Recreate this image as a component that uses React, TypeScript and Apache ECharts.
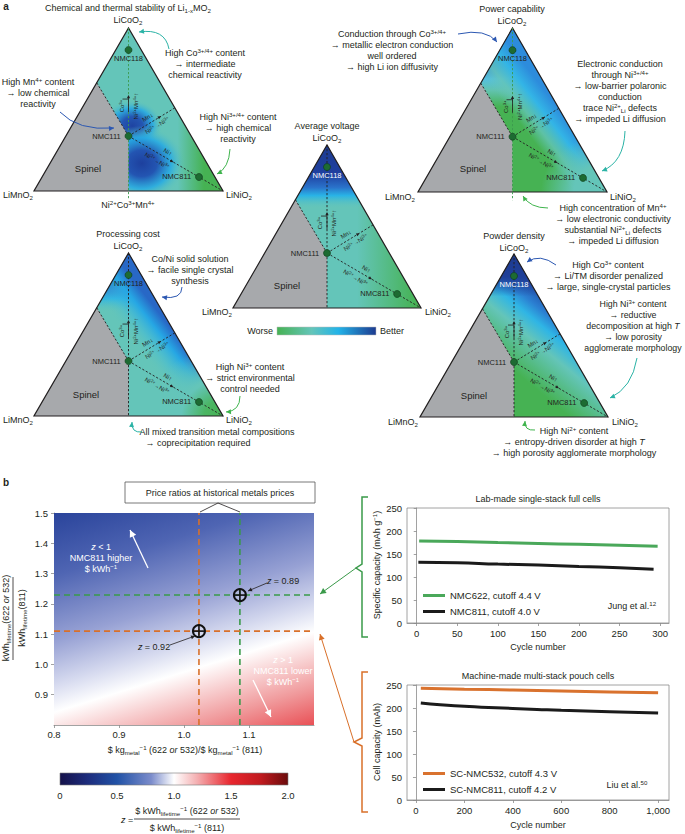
import React, { useEffect, useRef } from 'react';
import * as echarts from 'echarts';

const FONT = '"Liberation Sans", Arial, Helvetica, sans-serif';
const INK = '#231f20';

// ---------------- data ----------------
// ternary diagrams in cartesian units: LiMnO2 (0,0), LiNiO2 (1,0), LiCoO2 (0.5,1)
const triangleCorners = [[0, 0], [1, 0], [0.5, 1]];
const spinelRegion = [[0, 0], [0.332, 0.664], [0.5, 0.337], [0.5, 0]];
const nmcNames = ['NMC118', 'NMC111', 'NMC811'];
const nmcX = [0.5, 0.5, 0.873];
const nmcY = [0.865, 0.337, 0.086];
const spinelBoundary = [[0.332, 0.664], [0.5, 0.337]];
const mnLine = [[0.5, 0.337], [0.745, 0.51]];
const niLine = [[0.5, 0.337], [1, 0]];
const coLineFull = [[0.5, 1], [0.5, -0.05]];
const coLine = [[0.5, 1], [0.5, 0]];
const triangleTitles = ['Chemical and thermal stability of Li{sub|1-x}MO{sub|2}', 'Processing cost', 'Average voltage', 'Power capability', 'Powder density'];

// heat map (price ratio vs lifetime energy ratio)
const heatXExtent = [0.8, 1.2];
const heatYExtent = [0.8, 1.5];
const heatXTicks = [0.8, 0.9, 1.0, 1.1];
const heatYTicks = [0.9, 1.0, 1.1, 1.2, 1.3, 1.4, 1.5];
const priceRatios = [1.086, 1.023]; // 622, 532
const energyRatios = [1.229, 1.11];
const zValues = [0.89, 0.92];
const zTicks = [0, 0.5, 1.0, 1.5, 2.0];

// lab-made cells
const labCycles622 = [3, 50, 100, 150, 200, 250, 297];
const labCap622 = [178, 177, 175, 173, 171, 169, 167];
const labCycles811 = [2, 50, 100, 150, 200, 250, 292];
const labCap811 = [132, 131, 128, 126, 123, 120, 117];
const labXTicks = [0, 50, 100, 150, 200, 250, 300];
const capTicks = [0, 50, 100, 150, 200, 250];

// pouch cells
const pouchCycles532 = [20, 200, 400, 600, 800, 1000];
const pouchCap532 = [243, 241, 239, 237, 235, 233];
const pouchCycles811 = [20, 100, 200, 300, 400, 500, 600, 800, 1000];
const pouchCap811 = [211, 207, 204, 201, 199, 197, 195, 192, 189];
const pouchXTicks = [0, 200, 400, 600, 800, 1000];

// ---------------- styling ----------------
const TEAL = '#64c5b9';
const GREEN = '#46b253';
const DBLUE = '#1d3b90';
const GRAY = '#a7a9ac';
const TA = (a: number) => `rgba(100,197,185,${a})`;
const GA = (a: number) => `rgba(70,178,83,${a})`;

const lg = (x: number, y: number, x2: number, y2: number, s: any[]) =>
  new echarts.graphic.LinearGradient(x, y, x2, y2, s.map(([o, c]) => ({ offset: o, color: c })));
const rg = (x: number, y: number, r: number, s: any[]) =>
  new echarts.graphic.RadialGradient(x, y, r, s.map(([o, c]) => ({ offset: o, color: c })));

const TRI = [
  { left: 34, top: 28, w: 189, h: 163 },
  { left: 34, top: 253, w: 189, h: 163 },
  { left: 233, top: 145, w: 188, h: 163 },
  { left: 418, top: 28, w: 189, h: 164 },
  { left: 420, top: 254, w: 188, h: 163 },
];

const triStyles = [
  {
    base: TEAL, vGreen: true, nmc118: INK,
    overlays: [
      rg(0.52, 0.6, 0.16, [[0, '#1f44a2'], [0.35, '#2456b2'], [0.68, 'rgba(38,168,228,0.85)'], [1, TA(0)]]),
      rg(0.57, 0.83, 0.23, [[0, '#1d409e'], [0.35, '#2355b2'], [0.68, 'rgba(38,170,228,0.85)'], [1, TA(0)]]),
      lg(0.76, 0, 0.9, 0, [[0, GA(0)], [1, GREEN]]),
    ],
  },
  {
    base: TEAL, vGreen: false, nmc118: INK,
    overlays: [
      lg(0, 0, 0, 1, [[0, DBLUE], [0.17, '#2049a3'], [0.23, '#2a80d2'], [0.28, '#2cb4e6'], [0.36, TA(0)]]),
      lg(0.75, 0.5, 0.567, 0.623, [[0, '#2868c6'], [0.3, '#26a7e4'], [0.65, 'rgba(60,185,220,0.4)'], [1, TA(0)]]),
      rg(1, 1, 0.42, [[0, TEAL], [0.55, TEAL], [1, TA(0)]]),
      rg(1, 1, 0.22, [[0, GREEN], [0.45, GA(0.85)], [1, GA(0)]]),
    ],
  },
  {
    base: TEAL, vGreen: false, nmc118: '#ffffff',
    overlays: [
      lg(0, 0, 0, 1, [[0, DBLUE], [0.18, '#1f40a0'], [0.26, '#2a72ca'], [0.31, '#29b3e6'], [0.39, TA(0)]]),
      lg(0.66, 0, 0.98, 0, [[0, GA(0)], [1, GREEN]]),
    ],
  },
  {
    base: GREEN, vGreen: true, nmc118: INK,
    overlays: [
      lg(0, 0, 0, 1, [[0, DBLUE], [0.16, '#1f42a0'], [0.24, '#3088d6'], [0.31, '#55bfe0'], [0.38, TA(0.9)], [0.48, TA(0)]]),
      lg(0.75, 0.5, 0.567, 0.623, [[0, '#2d8cdc'], [0.35, '#33b5e6'], [0.7, TA(0.8)], [1, TA(0)]]),
      rg(1, 1, 0.35, [[0, TEAL], [0.5, TEAL], [1, TA(0)]]),
    ],
  },
  {
    base: GREEN, vGreen: false, nmc118: '#ffffff',
    overlays: [
      lg(0.936, 0.282, 0.464, 0.775, [[0, DBLUE], [0.2, '#2046a2'], [0.36, '#2b80d2'], [0.46, '#2fb5e5'], [0.6, TEAL], [0.75, TA(0.5)], [0.9, TA(0)]]),
      lg(0, 0, 0, 1, [[0, DBLUE], [0.14, '#1f3f98'], [0.26, 'rgba(31,63,152,0)']]),
    ],
  },
];

const rich = (fs: number, fill: string) => ({
  sup: { fontSize: fs * 0.68, lineHeight: fs * 0.68, verticalAlign: 'top', fontFamily: FONT, fill },
  sub: { fontSize: fs * 0.68, lineHeight: fs * 0.68, verticalAlign: 'bottom', fontFamily: FONT, fill },
  it: { fontSize: fs, fontStyle: 'italic', fontFamily: FONT, fill },
});

function T(x: number, y: number, text: string, o: any = {}) {
  const fs = o.fontSize || 9;
  const fill = o.fill || INK;
  return {
    type: 'text', x, y, z: 50, silent: true, rotation: o.rotation || 0,
    style: {
      text, fontSize: fs, fontFamily: FONT, fill, align: o.align || 'center', verticalAlign: o.va || 'middle',
      lineHeight: o.lh || 11, fontWeight: o.fontWeight || 'normal', rich: rich(fs, fill),
    },
  };
}

function head(x: number, y: number, ang: number, size: number, color: string) {
  const bx = x - Math.cos(ang) * size, by = y - Math.sin(ang) * size;
  const w = size * 0.5;
  const px = -Math.sin(ang) * w, py = Math.cos(ang) * w;
  return { type: 'polygon', z: 50, silent: true, shape: { points: [[x, y], [bx + px, by + py], [bx - px, by - py]] }, style: { fill: color } };
}

function curve(x1: number, y1: number, cx: number, cy: number, x2: number, y2: number, color: string) {
  return [
    { type: 'bezierCurve', z: 50, silent: true, shape: { x1, y1, x2, y2, cpx1: cx, cpy1: cy }, style: { stroke: color, lineWidth: 1, fill: 'none' } },
    head(x2, y2, Math.atan2(y2 - cy, x2 - cx), 5, color),
  ];
}

function straight(x1: number, y1: number, x2: number, y2: number, color: string, w = 1, hs = 5) {
  return [
    { type: 'line', z: 50, silent: true, shape: { x1, y1, x2, y2 }, style: { stroke: color, lineWidth: w } },
    head(x2, y2, Math.atan2(y2 - y1, x2 - x1), hs, color),
  ];
}

function seg(x1: number, y1: number, x2: number, y2: number, color: string, w = 1) {
  return { type: 'line', z: 50, silent: true, shape: { x1, y1, x2, y2 }, style: { stroke: color, lineWidth: w } };
}

function makeTriRender(i: number) {
  return function (_params: any, api: any) {
    const P = (p: number[]) => api.coord(p);
    const st = triStyles[i];
    const tri = triangleCorners.map(P);
    const ch: any[] = [];
    ch.push({ type: 'polygon', shape: { points: tri }, style: { fill: st.base } });
    st.overlays.forEach((g) => ch.push({ type: 'polygon', shape: { points: tri }, style: { fill: g } }));
    ch.push({ type: 'polygon', shape: { points: spinelRegion.map(P) }, style: { fill: GRAY } });
    ch.push({ type: 'polygon', shape: { points: tri }, style: { fill: 'none', stroke: INK, lineWidth: 1.2 } });
    const dash = (pts: number[][], color: string) => ({
      type: 'polyline', shape: { points: pts.map(P) }, style: { stroke: color, lineWidth: 0.9, lineDash: [2.2, 1.8], fill: 'none' },
    });
    ch.push(dash(st.vGreen ? coLineFull : coLine, st.vGreen ? '#3c9a4e' : INK));
    ch.push(dash(spinelBoundary, INK));
    ch.push(dash(mnLine, INK));
    ch.push(dash(niLine, INK));

    const c = P(mnLine[0]);
    const small = (x: number, y: number, text: string, rot: number) => ({
      type: 'text', x, y, rotation: rot,
      style: {
        text, fontSize: 6, fontFamily: FONT, fill: INK, align: 'center', verticalAlign: 'middle', lineHeight: 7,
        rich: { sup: { fontSize: 4.3, lineHeight: 4.3, verticalAlign: 'top', fontFamily: FONT, fill: INK } },
      },
    });
    const ln = (x1: number, y1: number, x2: number, y2: number) => ({ type: 'line', shape: { x1, y1, x2, y2 }, style: { stroke: INK, lineWidth: 0.8 } });
    const hd = (x: number, y: number, ang: number) => {
      const s = 3.2, w = 1.6;
      const bx = x - Math.cos(ang) * s, by = y - Math.sin(ang) * s;
      const px = -Math.sin(ang) * w, py = Math.cos(ang) * w;
      return { type: 'polygon', shape: { points: [[x, y], [bx + px, by + py], [bx - px, by - py]] }, style: { fill: INK } };
    };
    // Co3+ arrow (vertical)
    ch.push(ln(c[0], c[1] - 24, c[0], c[1] - 38));
    ch.push(hd(c[0], c[1] - 41, -Math.PI / 2));
    ch.push(ln(c[0] - 6, c[1] - 37, c[0], c[1] - 37));
    ch.push(small(c[0] - 7, c[1] - 30, 'Co{sup|3+}', Math.PI / 2));
    ch.push(small(c[0] + 7, c[1] - 30, 'Ni{sup|2+}Mn{sup|4+}↑', Math.PI / 2));
    // Mn line
    const E = P(mnLine[1]);
    let dx = E[0] - c[0], dy = E[1] - c[1];
    let L = Math.hypot(dx, dy); dx /= L; dy /= L;
    let nx = dy, ny = -dx;
    let rot = Math.atan2(-dy, dx);
    ch.push(small(c[0] + 26 * dx + 6 * nx, c[1] + 26 * dy + 6 * ny, 'Mn↓', rot));
    ch.push(small(c[0] + 30 * dx - 6 * nx, c[1] + 30 * dy - 6 * ny, 'Ni{sup|2+}→Ni{sup|3+}', rot));
    ch.push(hd(c[0] + 38 * dx, c[1] + 38 * dy, Math.atan2(dy, dx)));
    // Ni line
    const Rn = P(niLine[1]);
    dx = Rn[0] - c[0]; dy = Rn[1] - c[1];
    L = Math.hypot(dx, dy); dx /= L; dy /= L;
    nx = dy; ny = -dx;
    rot = Math.atan2(-dy, dx);
    ch.push(small(c[0] + 42 * dx + 6 * nx, c[1] + 42 * dy + 6 * ny, 'Ni↑', rot));
    ch.push(small(c[0] + 37 * dx - 7 * nx, c[1] + 37 * dy - 7 * ny, 'Ni{sup|2+}→Ni{sup|3+}', rot));
    ch.push(hd(c[0] + 52 * dx, c[1] + 52 * dy, Math.atan2(dy, dx)));
    return { type: 'group', children: ch };
  };
}

function heatRender(_params: any, api: any) {
  const p0 = api.coord([heatXExtent[0], heatYExtent[1]]);
  const p1 = api.coord([heatXExtent[1], heatYExtent[0]]);
  return {
    type: 'rect',
    shape: { x: p0[0], y: p0[1], width: p1[0] - p0[0], height: p1[1] - p0[1] },
    style: {
      fill: lg(0, 0, 0.49, 1.29, [
        [0, '#2a449b'], [0.2, '#4f65b3'], [0.41, '#97a1d4'], [0.55, '#d6daef'], [0.637, '#ffffff'],
        [0.72, '#f8d0d1'], [0.818, '#f0999b'], [0.92, '#ea5a5f'], [1, '#e6252c'],
      ]),
    },
  };
}

function markerRender(params: any, api: any) {
  const p = api.coord([api.value(0), api.value(1)]);
  const r = 6;
  return {
    type: 'group',
    children: [
      { type: 'circle', shape: { cx: p[0], cy: p[1], r }, style: { fill: 'rgba(255,255,255,0.15)', stroke: '#111', lineWidth: 2 } },
      { type: 'line', shape: { x1: p[0] - r, y1: p[1], x2: p[0] + r, y2: p[1] }, style: { stroke: '#111', lineWidth: 1.6 } },
      { type: 'line', shape: { x1: p[0], y1: p[1] - r, x2: p[0], y2: p[1] + r }, style: { stroke: '#111', lineWidth: 1.6 } },
    ],
  };
}

const axisLook = {
  axisLine: { show: true, lineStyle: { color: '#8a8a8a', width: 0.8 } },
  splitLine: { show: false },
};
const tickLook = { show: true, length: 3, lineStyle: { color: '#8a8a8a', width: 0.8 } };
const labelLook = { fontSize: 9.5, color: INK, fontFamily: FONT };

function buildOption() {
  const grids: any[] = TRI.map((t) => ({ left: t.left, top: t.top, width: t.w, height: t.h }));
  grids.push({ left: 54, top: 513, width: 260, height: 212 });
  grids.push({ left: 407, top: 508, width: 262, height: 115, show: true, borderColor: '#8a8a8a', borderWidth: 0.8 });
  grids.push({ left: 407, top: 685, width: 262, height: 115, show: true, borderColor: '#8a8a8a', borderWidth: 0.8 });

  const xAxis: any[] = TRI.map((_, i) => ({ gridIndex: i, type: 'value', min: 0, max: 1, show: false }));
  const yAxis: any[] = TRI.map((_, i) => ({ gridIndex: i, type: 'value', min: 0, max: 1, show: false }));
  xAxis.push({
    gridIndex: 5, type: 'value', min: heatXExtent[0], max: heatXExtent[1], ...axisLook,
    axisTick: { ...tickLook, customValues: heatXTicks },
    axisLabel: { ...labelLook, margin: 4, customValues: heatXTicks, formatter: (v: number) => v.toFixed(1) },
  });
  yAxis.push({
    gridIndex: 5, type: 'value', min: heatYExtent[0], max: heatYExtent[1], ...axisLook,
    axisTick: { ...tickLook, customValues: heatYTicks },
    axisLabel: { ...labelLook, margin: 6, customValues: heatYTicks, formatter: (v: number) => v.toFixed(1) },
  });
  xAxis.push({
    gridIndex: 6, type: 'value', min: -12, max: 311, ...axisLook,
    axisTick: { ...tickLook, customValues: labXTicks },
    axisLabel: { ...labelLook, margin: 5, customValues: labXTicks },
  });
  yAxis.push({
    gridIndex: 6, type: 'value', min: 0, max: 250, ...axisLook,
    axisTick: { ...tickLook, customValues: capTicks },
    axisLabel: { ...labelLook, margin: 5, customValues: capTicks },
  });
  xAxis.push({
    gridIndex: 7, type: 'value', min: -37, max: 1045, ...axisLook,
    axisTick: { ...tickLook, customValues: pouchXTicks },
    axisLabel: { ...labelLook, margin: 5, customValues: pouchXTicks, formatter: (v: number) => v.toLocaleString('en-US') },
  });
  yAxis.push({
    gridIndex: 7, type: 'value', min: 0, max: 250, ...axisLook,
    axisTick: { ...tickLook, customValues: capTicks },
    axisLabel: { ...labelLook, margin: 5, customValues: capTicks },
  });

  const series: any[] = [];
  TRI.forEach((_, i) => {
    series.push({
      type: 'custom', xAxisIndex: i, yAxisIndex: i, renderItem: makeTriRender(i), data: [[0.5, 0.5]], z: 2, silent: true,
    });
    series.push({
      type: 'scatter', xAxisIndex: i, yAxisIndex: i, symbolSize: 7, z: 3, silent: true,
      itemStyle: { color: '#1d6b32', borderColor: '#0e3a1a', borderWidth: 0.6, opacity: 1 },
      label: { show: true, formatter: '{b}', fontSize: 7.5, fontFamily: FONT, color: INK },
      data: nmcNames.map((n, k) => ({
        name: n, value: [nmcX[k], nmcY[k]],
        label: k === 0 ? { position: 'bottom', distance: 1, color: triStyles[i].nmc118 } : { position: 'left', distance: 4 },
      })),
    });
  });

  // heat map
  series.push({ type: 'custom', xAxisIndex: 5, yAxisIndex: 5, renderItem: heatRender, data: [[1, 1]], z: 1, silent: true });
  const dl = (pts: number[][], color: string) => ({
    type: 'line', xAxisIndex: 5, yAxisIndex: 5, data: pts, symbol: 'none', silent: true, z: 3,
    lineStyle: { color, width: 1.6, type: [6, 4] },
  });
  const ORANGE = '#d9702a', DGREEN = '#3a9a4a';
  series.push(dl([[priceRatios[1], heatYExtent[0]], [priceRatios[1], heatYExtent[1]]], ORANGE));
  series.push(dl([[priceRatios[0], heatYExtent[0]], [priceRatios[0], heatYExtent[1]]], DGREEN));
  series.push(dl([[heatXExtent[0], energyRatios[0]], [heatXExtent[1], energyRatios[0]]], DGREEN));
  series.push(dl([[heatXExtent[0], energyRatios[1]], [heatXExtent[1], energyRatios[1]]], ORANGE));
  series.push({
    type: 'custom', xAxisIndex: 5, yAxisIndex: 5, renderItem: markerRender, z: 4, silent: true,
    data: priceRatios.map((p, k) => [p, energyRatios[k], zValues[k]]),
  });

  // line charts
  const LGREEN = '#4aa85a', BLACK = '#1b1b1b', LORANGE = '#d9722e';
  const lineS = (name: string, xi: number, xs: number[], ys: number[], color: string) => ({
    type: 'line', name, xAxisIndex: xi, yAxisIndex: xi, data: xs.map((x, k) => [x, ys[k]]), symbol: 'none', smooth: true,
    lineStyle: { width: 3, color }, itemStyle: { color }, z: 3, silent: true,
  });
  series.push(lineS('NMC622, cutoff 4.4 V', 6, labCycles622, labCap622, LGREEN));
  series.push(lineS('NMC811, cutoff 4.0 V', 6, labCycles811, labCap811, BLACK));
  series.push(lineS('SC-NMC532, cutoff 4.3 V', 7, pouchCycles532, pouchCap532, LORANGE));
  series.push(lineS('SC-NMC811, cutoff 4.2 V', 7, pouchCycles811, pouchCap811, BLACK));

  const legendBase = {
    orient: 'vertical', icon: 'rect', itemWidth: 22, itemHeight: 3, itemGap: 5,
    textStyle: { fontSize: 9.5, fontFamily: FONT, color: INK, lineHeight: 11 }, selectedMode: false,
  };
  const legend = [
    { ...legendBase, left: 418, top: 585, data: ['NMC622, cutoff 4.4 V', 'NMC811, cutoff 4.0 V'] },
    { ...legendBase, left: 418, top: 763, data: ['SC-NMC532, cutoff 4.3 V', 'SC-NMC811, cutoff 4.2 V'] },
  ];

  // ---------- graphic annotations ----------
  const g: any[] = [];
  const TEALA = '#2bb3a6', BLUEA = '#2c58b2', GREENA = '#3fb44d';
  g.push(T(6, 6, 'a', { fontSize: 10, fontWeight: 'bold' }));
  g.push(T(6, 482, 'b', { fontSize: 10, fontWeight: 'bold' }));

  // triangle titles and corner labels
  const tt = [[128, 8], [128, 234], [327, 126], [512, 9], [514, 236]];
  tt.forEach(([x, y], i) => {
    g.push(T(x, y, triangleTitles[i]));
    g.push(T(x, y + 12, 'LiCoO{sub|2}'));
  });
  const mnL = [[18, 195], [18, 420], [217, 312], [400, 197], [403, 422]];
  const niL = [[239, 195], [239, 420], [438, 312], [623, 197], [625, 422]];
  const spL = [[88, 168], [86, 394], [287, 285], [473, 168], [474, 395]];
  TRI.forEach((_, i) => {
    g.push(T(mnL[i][0], mnL[i][1], 'LiMnO{sub|2}'));
    g.push(T(niL[i][0], niL[i][1], 'LiNiO{sub|2}'));
    g.push(T(spL[i][0], spL[i][1], 'Spinel', { fontSize: 9.5 }));
  });
  g.push(T(128, 205, 'Ni{sup|2+}Co{sup|3+}Mn{sup|4+}'));

  // T1 notes
  g.push(T(205, 64, 'High Co{sup|3+/4+} content\n→ intermediate\nchemical reactivity'));
  g.push(...curve(169, 49, 165, 28, 139, 32, TEALA));
  g.push(T(38, 93, 'High Mn{sup|4+} content\n→ low chemical\nreactivity'));
  g.push(...curve(60, 112, 78, 131, 114, 128, BLUEA));
  g.push(T(238, 128, 'High Ni{sup|3+/4+} content\n→ high chemical\nreactivity'));
  g.push(...curve(230, 149, 229, 168, 217, 174, GREENA));
  // T2 notes
  g.push(T(190, 270, 'Co/Ni solid solution\n→ facile single crystal\nsynthesis'));
  g.push(...curve(182, 287, 182, 300, 162, 297, BLUEA));
  g.push(T(250, 378, 'High Ni{sup|3+} content\n→ strict environmental\ncontrol needed'));
  g.push(...curve(240, 396, 240, 411, 226, 412, GREENA));
  g.push(T(217, 432, 'All mixed transition metal compositions'));
  g.push(T(198, 443, '→ coprecipitation required'));
  g.push(...curve(142, 432, 131, 433, 132, 422, TEALA));
  // T4 notes
  g.push(T(392, 50.5, 'Conduction through Co{sup|3+/4+}\n→ metallic electron conduction\nwell ordered\n→ high Li ion diffusivity'));
  g.push(...curve(458, 34, 486, 28, 497, 42, BLUEA));
  g.push(T(620, 91, 'Electronic conduction\nthrough Ni{sup|3+/4+}\n→ low-barrier polaronic\nconduction\ntrace Ni{sup|2+}{sub|Li} defects\n→ impeded Li diffusion'));
  g.push(...curve(625, 131, 624, 162, 602, 171, TEALA));
  g.push(T(613, 224.5, 'High concentration of Mn{sup|4+}\n→ low electronic conductivity\nsubstantial Ni{sup|2+}{sub|Li} defects\n→ impeded Li diffusion'));
  g.push(...curve(548, 208, 530, 208, 523, 196, GREENA));
  // T5 notes
  g.push(T(608, 276, 'High Co{sup|3+} content\n→ Li/TM disorder penalized\n→ large, single-crystal particles'));
  g.push(...curve(556, 265, 540, 253, 527, 262, BLUEA));
  g.push(T(633, 326, 'High Ni{sup|3+} content\n→ reductive\ndecomposition at high {it|T}\n→ low porosity\nagglomerate morphology', { fontSize: 8.8 }));
  g.push(...curve(637, 358, 632, 388, 610, 398, TEALA));
  g.push(T(574, 441.5, 'High Ni{sup|2+} content\n→ entropy-driven disorder at high {it|T}\n→ high porosity agglomerate morphology'));
  g.push(...curve(535, 430, 524, 431, 525, 421, GREENA));

  // worse/better bar
  g.push({
    type: 'rect', z: 50, silent: true, shape: { x: 277, y: 327, width: 99, height: 8 },
    style: { fill: lg(0, 0, 1, 0, [[0, GREEN], [0.35, TEAL], [0.62, '#23b3e8'], [1, DBLUE]]), stroke: '#bbb', lineWidth: 0.5 },
  });
  g.push(T(273, 331, 'Worse', { align: 'right' }));
  g.push(T(380, 331, 'Better', { align: 'left' }));

  // panel b: heat-map annotations
  g.push({ type: 'rect', z: 50, silent: true, shape: { x: 125, y: 482, width: 190, height: 21 }, style: { fill: '#fff', stroke: '#555', lineWidth: 0.8 } });
  g.push(T(220, 493, 'Price ratios at historical metals prices'));
  g.push(seg(218, 503, 200, 512, INK, 0.8));
  g.push(seg(218, 503, 240, 512, INK, 0.8));
  g.push(T(101, 547, '{it|z} < 1', { fill: '#fff' }));
  g.push(T(101, 558, 'NMC811 higher', { fill: '#fff' }));
  g.push(T(101, 569, '$ kWh{sup|−1}', { fill: '#fff' }));
  g.push(...straight(148, 568, 130, 530, '#fff', 1.3, 7));
  g.push(T(283, 660, '{it|z} > 1', { fill: '#fff' }));
  g.push(T(283, 671, 'NMC811 lower', { fill: '#fff' }));
  g.push(T(283, 682, '$ kWh{sup|−1}', { fill: '#fff' }));
  g.push(...straight(253, 680, 271, 717, '#fff', 1.3, 7));
  g.push(T(283, 581, '{it|z} = ' + zValues[0].toFixed(2)));
  g.push(...straight(267, 583, 248, 591, INK, 0.8, 4));
  g.push(T(154, 647, '{it|z} = ' + zValues[1].toFixed(2)));
  g.push(...straight(170, 645, 195, 636, INK, 0.8, 4));
  g.push(T(185, 750, '$ kg{sub|metal}{sup|−1} (622 {it|or} 532)/$ kg{sub|metal}{sup|−1} (811)'));
  g.push(T(6, 618, 'kWh{sub|lifetime}(622 {it|or} 532)', { rotation: Math.PI / 2 }));
  g.push(seg(13, 577, 13, 660, INK, 0.8));
  g.push(T(22, 618, 'kWh{sub|lifetime}(811)', { rotation: Math.PI / 2 }));

  // z colour bar
  const cb = { x: 60, y: 773, w: 228, h: 12 };
  g.push({
    type: 'rect', z: 50, silent: true, shape: { x: cb.x, y: cb.y, width: cb.w, height: cb.h },
    style: {
      fill: lg(0, 0, 1, 0, [[0, '#15124a'], [0.12, '#1d2c7c'], [0.25, '#2152a6'], [0.4, '#7b8ccb'], [0.5, '#ffffff'],
        [0.6, '#f4b0b2'], [0.75, '#e8262e'], [0.88, '#c01a1f'], [1, '#6b0c0c']]),
      stroke: '#777', lineWidth: 0.6,
    },
  });
  zTicks.forEach((v) => {
    const x = cb.x + (v / zTicks[zTicks.length - 1]) * cb.w;
    g.push(T(x, 795, v === 0 ? '0' : v.toFixed(1), { fontSize: 9.5 }));
  });
  g.push(T(127, 820, '{it|z} ='));
  g.push(T(187, 811, '$ kWh{sub|lifetime}{sup|−1} (622 {it|or} 532)'));
  g.push(seg(134, 819, 240, 819, INK, 0.8));
  g.push(T(187, 828, '$ kWh{sub|lifetime}{sup|−1} (811)'));

  // line chart labels
  g.push(T(538, 499, 'Lab-made single-stack full cells'));
  g.push(T(377, 565, 'Specific capacity (mAh g{sup|−1})', { rotation: Math.PI / 2 }));
  g.push(T(538, 647, 'Cycle number'));
  g.push(T(632, 606, 'Jung et al.{sup|12}'));
  g.push(T(538, 676, 'Machine-made multi-stack pouch cells'));
  g.push(T(377, 742, 'Cell capacity (mAh)', { rotation: Math.PI / 2 }));
  g.push(T(538, 825, 'Cycle number'));
  g.push(T(627, 785, 'Liu et al.{sup|50}'));

  // brackets and connectors
  g.push({
    type: 'polyline', z: 50, silent: true,
    shape: { points: [[368, 497], [362, 497], [362, 564], [356, 568], [362, 572], [362, 637], [368, 637]] },
    style: { stroke: DGREEN, lineWidth: 1.5, fill: 'none' },
  });
  g.push(...straight(356, 568, 320, 594, DGREEN, 1, 6));
  g.push({
    type: 'polyline', z: 50, silent: true,
    shape: { points: [[368, 672], [362, 672], [362, 738], [354, 742], [362, 746], [362, 812], [368, 812]] },
    style: { stroke: ORANGE, lineWidth: 1.5, fill: 'none' },
  });
  g.push(...straight(354, 742, 320, 634, ORANGE, 1, 6));

  return {
    animation: false,
    backgroundColor: '#ffffff',
    textStyle: { fontFamily: FONT },
    grid: grids,
    xAxis,
    yAxis,
    legend,
    series,
    graphic: { elements: g },
  };
}

export default function App() {
  const ref = useRef<HTMLDivElement>(null);
  useEffect(() => {
    const chart = echarts.init(ref.current as HTMLDivElement, null, { renderer: 'svg' });
    chart.setOption(buildOption() as any);
    return () => chart.dispose();
  }, []);
  return <div ref={ref} style={{ position: 'absolute', left: 0, top: 0, width: 685, height: 834, background: '#fff' }} />;
}
